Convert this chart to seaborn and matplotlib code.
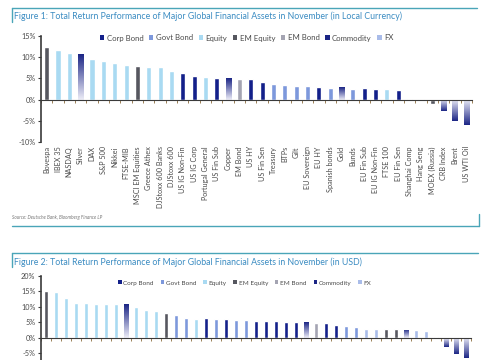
import matplotlib
matplotlib.use('Agg')
import matplotlib.pyplot as plt
import seaborn as sns
import numpy as np
import pandas as pd
from matplotlib.lines import Line2D
from matplotlib.patches import Patch
from matplotlib.colors import LinearSegmentedColormap

# --- Figure 1: local currency returns (%) ---
assets_local = ['Bovespa', 'IBEX 35', 'NASDAQ', 'Silver', 'DAX', 'S&P 500', 'Nikkei', 'FTSE-MIB',
                'MSCI EM Equities', 'Greece Athex', 'DJStoxx 600 Banks', 'DJStoxx 600', 'US IG Non-Fin',
                'US IG Corp', 'Portugal General', 'US Fin Sub', 'Copper', 'EM Bond', 'US HY', 'US Fin Sen',
                'Treasury', 'BTPs', 'Gilt', 'EU Sovereign', 'EU HY', 'Spanish bonds', 'Gold', 'Bunds',
                'EU Fin Sub', 'EU IG Non-Fin', 'FTSE 100', 'EU Fin Sen', 'Shanghai Comp', 'Hang Seng',
                'MOEX (Russia)', 'CRB Index', 'Brent', 'US WTI Oil']
returns_local = [12.5, 11.6, 10.9, 10.7, 9.5, 9.2, 8.6, 8.2, 8.0, 7.7, 7.7, 6.7, 6.3, 5.6, 5.4, 5.2,
                 5.1, 4.8, 4.8, 4.2, 3.7, 3.5, 3.2, 3.1, 2.9, 2.8, 2.9, 2.5, 2.7, 2.6, 2.4, 2.3,
                 0.2, 0.05, -1.0, -2.6, -5.0, -6.1]
classes_local = ['EM Equity', 'Equity', 'Equity', 'Commodity', 'Equity', 'Equity', 'Equity', 'Equity',
                 'EM Equity', 'Equity', 'Equity', 'Equity', 'Corp Bond', 'Corp Bond', 'Equity', 'Corp Bond',
                 'Commodity', 'EM Bond', 'Corp Bond', 'Corp Bond', 'Govt Bond', 'Govt Bond', 'Govt Bond',
                 'Govt Bond', 'Corp Bond', 'Govt Bond', 'Commodity', 'Govt Bond', 'Corp Bond', 'Corp Bond',
                 'Equity', 'Corp Bond', 'EM Equity', 'Equity', 'EM Equity', 'Commodity', 'Commodity',
                 'Commodity']

# --- Figure 2: USD returns (%), labels are cropped off in the source ---
assets_usd = ['Bovespa', 'IBEX 35', 'Greece Athex', 'NASDAQ', 'FTSE-MIB', 'DAX', 'DJStoxx 600 Banks',
              'Portugal General', 'Silver', 'S&P 500', 'DJStoxx 600', 'Nikkei', 'MSCI EM Equities', 'BTPs',
              'Spanish bonds', 'FTSE 100', 'EU HY', 'EU Sovereign', 'EU Fin Sub', 'Gilt', 'Bunds',
              'EU IG Non-Fin', 'EU Fin Sen', 'US IG Non-Fin', 'US IG Corp', 'US Fin Sub', 'Copper', 'EM Bond',
              'US HY', 'US Fin Sen', 'Treasury', 'JGB', 'EUR', 'GBP', 'Shanghai Comp', 'Hang Seng', 'Gold',
              'JPY', 'CHF', 'MOEX (Russia)', 'CRB Index', 'Brent', 'US WTI Oil']
returns_usd = [15.0, 14.8, 12.8, 11.3, 11.1, 10.8, 10.8, 10.8, 10.9, 9.9, 9.1, 8.5, 8.1, 7.2, 6.5, 6.2,
               6.3, 6.1, 5.9, 5.8, 5.6, 5.5, 5.5, 5.3, 5.2, 5.1, 5.0, 4.7, 4.6, 4.1, 3.8, 3.5, 2.9, 2.9,
               2.8, 2.7, 2.6, 2.4, 2.3, 0.1, -2.9, -5.3, -6.5]
classes_usd = ['EM Equity', 'Equity', 'Equity', 'Equity', 'Equity', 'Equity', 'Equity', 'Equity',
               'Commodity', 'Equity', 'Equity', 'Equity', 'EM Equity', 'Govt Bond', 'Govt Bond', 'Equity',
               'Corp Bond', 'Govt Bond', 'Corp Bond', 'Govt Bond', 'Govt Bond', 'Corp Bond', 'Corp Bond',
               'Corp Bond', 'Corp Bond', 'Corp Bond', 'Commodity', 'EM Bond', 'Corp Bond', 'Corp Bond',
               'Govt Bond', 'Govt Bond', 'FX', 'FX', 'EM Equity', 'EM Equity', 'Commodity', 'FX', 'FX',
               'EM Equity', 'Commodity', 'Commodity', 'Commodity']

class_order = ['Corp Bond', 'Govt Bond', 'Equity', 'EM Equity', 'EM Bond', 'Commodity', 'FX']
class_colors = {'Corp Bond': '#13208a', 'Govt Bond': '#7d98dc', 'Equity': '#a9daf2',
                'EM Equity': '#56575f', 'EM Bond': '#a4a4b2', 'Commodity': '#1b2585', 'FX': '#a9bce9'}
commodity_cmap = LinearSegmentedColormap.from_list('commodity', ['#eeeef8', '#1b2585'])

TEAL = '#4aa5b8'
TITLE_BLUE = '#3b8cc2'
AXIS_GREY = '#3a3a3a'
LABEL_GREY = '#4a4a4a'

sns.set_theme(style='white')
plt.rcParams['font.family'] = ['Lato', 'DejaVu Sans']

W, H = 485, 360
fig = plt.figure(figsize=(W / 100, H / 100), dpi=100)


def fx(px):
    return px / W


def fy(py):
    return 1 - py / H


def draw_panel(ax, names, values, classes, ylim, yticks, label_size, show_labels=True):
    df = pd.DataFrame({'asset': names, 'ret': values, 'cls': classes})
    sns.barplot(data=df, x='asset', y='ret', hue='cls', order=names, hue_order=class_order,
                palette=class_colors, dodge=False, width=0.45, saturation=1, errorbar=None,
                legend=False, ax=ax)

    # gradient fill for commodity bars (dark at the far end, fading to the baseline)
    grad = np.linspace(0, 1, 256).reshape(-1, 1)
    for p in list(ax.patches):
        idx = int(round(p.get_x() + p.get_width() / 2))
        if classes[idx] != 'Commodity' or p.get_height() == 0:
            continue
        y0, y1 = sorted([p.get_y(), p.get_y() + p.get_height()])
        data = grad if values[idx] > 0 else grad[::-1]
        im = ax.imshow(data, cmap=commodity_cmap, origin='lower', aspect='auto',
                       extent=[p.get_x(), p.get_x() + p.get_width(), y0, y1], zorder=p.get_zorder())
        im.set_clip_path(p)
        p.set_facecolor('none')

    n = len(names)
    ax.set_xlim(-0.5, n - 0.5)
    ax.set_ylim(*ylim)
    ax.set_yticks(yticks)
    ax.set_yticklabels([f'{t}%' for t in yticks])
    ax.set_xlabel('')
    ax.set_ylabel('')
    ax.set_xticks(range(n))
    ax.set_xticklabels(names)
    ax.set_xticks(np.arange(n + 1) - 0.5, minor=True)

    for s in ['right', 'bottom']:
        ax.spines[s].set_visible(False)
    ax.spines['top'].set_position(('data', 0))
    ax.spines['top'].set_color(AXIS_GREY)
    ax.spines['top'].set_linewidth(0.8)
    ax.spines['left'].set_color(AXIS_GREY)
    ax.spines['left'].set_linewidth(1.2)

    ax.tick_params(axis='x', which='major', bottom=show_labels, top=False, length=0, pad=3,
                   labelbottom=show_labels, labelrotation=90, labelsize=label_size,
                   labelcolor=LABEL_GREY)
    ax.tick_params(axis='x', which='minor', bottom=False, top=True, direction='in', length=2,
                   width=0.6, color='#8a6a3a')
    ax.tick_params(axis='y', left=True, length=2.5, width=0.8, color=AXIS_GREY, pad=1.5,
                   labelsize=5.2, labelcolor=LABEL_GREY)
    ax.grid(False)


def add_legend(x_px, y_px, size, spacing):
    handles = [Patch(facecolor=class_colors[c], edgecolor='none', label=c) for c in class_order]
    fig.legend(handles=handles, loc='center left', bbox_to_anchor=(fx(x_px), fy(y_px)), ncol=7,
               frameon=False, fontsize=size, handlelength=0.55, handleheight=0.55, handletextpad=0.3,
               columnspacing=spacing, borderpad=0, borderaxespad=0, labelcolor=LABEL_GREY)


# --- Figure 1 ---
ax1 = fig.add_axes([fx(41), fy(142), fx(472 - 41), (142 - 36) / H])
draw_panel(ax1, assets_local, returns_local, classes_local, (-10, 15), [-10, -5, 0, 5, 10, 15], 5.2)
fig.text(fx(14), fy(16), 'Figure 1: Total Return Performance of Major Global Financial Assets in November '
         '(in Local Currency)', fontsize=6.3, color=TITLE_BLUE, va='center', ha='left')
add_legend(100, 38, 5.6, 0.75)
fig.text(fx(12), fy(217), 'Source: Deutsche Bank, Bloomberg Finance LP', fontsize=3.3, style='italic',
         color='#777777', va='center', ha='left')

# frame corners for figure 1
fig.add_artist(Line2D([fx(12), fx(477)], [fy(8), fy(8)], color=TEAL, lw=1))
fig.add_artist(Line2D([fx(12), fx(12)], [fy(8), fy(22)], color=TEAL, lw=1))
fig.add_artist(Line2D([fx(12), fx(479)], [fy(226), fy(226)], color=TEAL, lw=1))
fig.add_artist(Line2D([fx(479), fx(479)], [fy(214), fy(226)], color=TEAL, lw=1))

# --- Figure 2 (cropped at the bottom like the source image) ---
ax2 = fig.add_axes([fx(41), fy(368.5), fx(471 - 41), (368.5 - 276) / H])
draw_panel(ax2, assets_usd, returns_usd, classes_usd, (-10, 20), [-5, 0, 5, 10, 15, 20], 4.6,
           show_labels=False)
fig.text(fx(14), fy(262), 'Figure 2: Total Return Performance of Major Global Financial Assets in November '
         '(in USD)', fontsize=6.3, color=TITLE_BLUE, va='center', ha='left')
add_legend(118, 283, 4.6, 1.05)

fig.add_artist(Line2D([fx(12), fx(478)], [fy(253), fy(253)], color=TEAL, lw=1))
fig.add_artist(Line2D([fx(12), fx(12)], [fy(253), fy(267)], color=TEAL, lw=1))

fig.savefig('out.png', dpi=100)
